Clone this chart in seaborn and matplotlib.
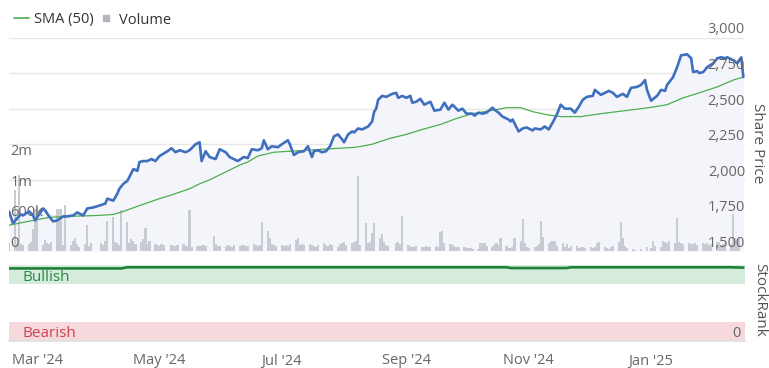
import pandas as pd
import matplotlib
matplotlib.use("Agg")
import matplotlib.pyplot as plt
from matplotlib.lines import Line2D
import seaborn as sns

# share price (pence)
price_dates = [
    "2024-02-16", "2024-02-18", "2024-02-20", "2024-02-22", "2024-02-23", "2024-02-26", "2024-02-28", "2024-02-29",
    "2024-03-02", "2024-03-04", "2024-03-05", "2024-03-07", "2024-03-09", "2024-03-11", "2024-03-14", "2024-03-16",
    "2024-03-19", "2024-03-21", "2024-03-24", "2024-03-26", "2024-03-29",
    "2024-04-01", "2024-04-04", "2024-04-05", "2024-04-08", "2024-04-10", "2024-04-11", "2024-04-13", "2024-04-15",
    "2024-04-16", "2024-04-18", "2024-04-20", "2024-04-21", "2024-04-23", "2024-04-25", "2024-04-27", "2024-04-29",
    "2024-05-01", "2024-05-05", "2024-05-07", "2024-05-09", "2024-05-11", "2024-05-14", "2024-05-16", "2024-05-19",
    "2024-05-21", "2024-05-22", "2024-05-24", "2024-05-26", "2024-05-29", "2024-05-31",
    "2024-06-03", "2024-06-05", "2024-06-09", "2024-06-12", "2024-06-14", "2024-06-16", "2024-06-19", "2024-06-21",
    "2024-06-22", "2024-06-24", "2024-06-26", "2024-06-29",
    "2024-07-01", "2024-07-04", "2024-07-05", "2024-07-07", "2024-07-09", "2024-07-12", "2024-07-14", "2024-07-16",
    "2024-07-17", "2024-07-19", "2024-07-21", "2024-07-23", "2024-07-25", "2024-07-27", "2024-07-29", "2024-07-31",
    "2024-08-01", "2024-08-03", "2024-08-05", "2024-08-06", "2024-08-08", "2024-08-10", "2024-08-13", "2024-08-15",
    "2024-08-16", "2024-08-17", "2024-08-18", "2024-08-20", "2024-08-22", "2024-08-25", "2024-08-27", "2024-08-28",
    "2024-08-30",
    "2024-09-01", "2024-09-03", "2024-09-04", "2024-09-06", "2024-09-08", "2024-09-10", "2024-09-13", "2024-09-15",
    "2024-09-18", "2024-09-20", "2024-09-22", "2024-09-24", "2024-09-27", "2024-09-29",
    "2024-10-01", "2024-10-04", "2024-10-05", "2024-10-07", "2024-10-09", "2024-10-11", "2024-10-14", "2024-10-15",
    "2024-10-17", "2024-10-19", "2024-10-22", "2024-10-23", "2024-10-24", "2024-10-27", "2024-10-29", "2024-10-31",
    "2024-11-03", "2024-11-04", "2024-11-07", "2024-11-09", "2024-11-11", "2024-11-13", "2024-11-15", "2024-11-17",
    "2024-11-19", "2024-11-22", "2024-11-24", "2024-11-26", "2024-11-28", "2024-11-30",
    "2024-12-03", "2024-12-04", "2024-12-07", "2024-12-09", "2024-12-11", "2024-12-13", "2024-12-15", "2024-12-18",
    "2024-12-20", "2024-12-22", "2024-12-25", "2024-12-27", "2024-12-29", "2024-12-30",
    "2025-01-01", "2025-01-04", "2025-01-06", "2025-01-08", "2025-01-09", "2025-01-12", "2025-01-14", "2025-01-16",
    "2025-01-19", "2025-01-21", "2025-01-22", "2025-01-24", "2025-01-25", "2025-01-27", "2025-01-29",
    "2025-02-01", "2025-02-03", "2025-02-05", "2025-02-07", "2025-02-08", "2025-02-11", "2025-02-13", "2025-02-15",
    "2025-02-16",
]
price_values = [
    1778, 1694, 1729, 1757, 1750, 1778, 1750, 1715,
    1757, 1799, 1785, 1743, 1708, 1715, 1743, 1743, 1750, 1771, 1750, 1799, 1806,
    1819, 1833, 1868, 1854, 1903, 1937, 1972, 1993, 2021, 2076, 2063, 2125, 2132, 2132, 2146, 2132,
    2167, 2201, 2222, 2194, 2208, 2194, 2208, 2250, 2264, 2132, 2201, 2160, 2146, 2215,
    2194, 2160, 2132, 2160, 2153, 2215, 2208, 2222, 2278, 2215, 2236, 2229,
    2250, 2278, 2250, 2174, 2194, 2201, 2236, 2160, 2201, 2208, 2194, 2201, 2236, 2306, 2319, 2285,
    2264, 2319, 2340, 2333, 2361, 2354, 2375, 2410, 2479, 2500, 2563, 2590, 2583, 2604, 2611, 2576, 2590,
    2576, 2590, 2542, 2549, 2569, 2528, 2549, 2486, 2493, 2542, 2493, 2528, 2486, 2500,
    2465, 2465, 2451, 2472, 2465, 2472, 2507, 2493, 2472, 2444, 2424, 2410, 2424, 2340, 2361, 2368,
    2347, 2361, 2354, 2375, 2354, 2403, 2458, 2528, 2500, 2500, 2472, 2514, 2563, 2583,
    2590, 2632, 2597, 2611, 2625, 2611, 2583, 2604, 2583, 2646, 2653, 2667, 2701, 2632,
    2556, 2590, 2632, 2625, 2667, 2722, 2792, 2875, 2882, 2854, 2757, 2764, 2750, 2757, 2792,
    2819, 2854, 2861, 2854, 2861, 2840, 2819, 2861, 2722,
]

# 50 day simple moving average
sma_dates = [
    "2024-02-16", "2024-02-28", "2024-03-07", "2024-03-16", "2024-04-01", "2024-04-08", "2024-04-13", "2024-04-21",
    "2024-05-01", "2024-05-06", "2024-05-16", "2024-05-21", "2024-05-26", "2024-06-05", "2024-06-10", "2024-06-14",
    "2024-06-19", "2024-06-27", "2024-07-05", "2024-07-14", "2024-07-21", "2024-07-30", "2024-08-07", "2024-08-15",
    "2024-08-24", "2024-09-01", "2024-09-09", "2024-09-18", "2024-09-26", "2024-10-04", "2024-10-13", "2024-10-21",
    "2024-10-28", "2024-11-03", "2024-11-10", "2024-11-17", "2024-11-27", "2024-12-07", "2024-12-15", "2024-12-23",
    "2024-12-31", "2025-01-09", "2025-01-17", "2025-01-25", "2025-02-03", "2025-02-11", "2025-02-16",
]
sma_values = [
    1681, 1715, 1736, 1743, 1750, 1757, 1778, 1819,
    1868, 1889, 1937, 1972, 2000, 2069, 2104, 2125,
    2167, 2194, 2201, 2208, 2215, 2222, 2229, 2250,
    2292, 2319, 2354, 2389, 2431, 2465, 2486, 2507,
    2507, 2479, 2458, 2444, 2444, 2465, 2479, 2493,
    2507, 2528, 2576, 2611, 2653, 2701, 2722,
]

# daily volume in thousands, one value per business day from 16 Feb 2024
volume_start = "2024-02-16"
volume_k = [
    150,
    1200, 140, 1490, 130, 120,
    140, 180, 430, 830, 870,
    120, 220, 150, 130, 180,
    820, 820, 820, 120, 910,
    110, 200, 260, 130, 80,
    130, 510, 100, 160, 0,
    0, 150, 120, 200, 600,
    670, 180, 150, 120, 800,
    570, 150, 230, 200, 140,
    170, 230, 450, 130, 190,
    140, 110, 100, 130, 120,
    0, 110, 100, 90, 120,
    130, 100, 90, 800, 80,
    90, 100, 110, 120, 100,
    0, 300, 130, 100, 90,
    100, 110, 90, 80, 110,
    100, 110, 120, 90, 100,
    130, 120, 90, 110, 570,
    400, 250, 130, 110, 100,
    120, 100, 110, 90, 130,
    210, 250, 110, 140, 120,
    130, 110, 100, 80, 120,
    160, 120, 100, 130, 120,
    80, 130, 150, 180, 120,
    160, 170, 200, 1480, 110,
    550, 150, 180, 350, 550,
    250, 330, 180, 120, 100,
    0, 150, 180, 130, 680,
    120, 100, 80, 70, 90,
    70, 80, 90, 80, 85,
    90, 80, 380, 400, 150,
    130, 120, 80, 80, 70,
    70, 60, 60, 50, 40,
    40, 150, 160, 150, 100,
    80, 110, 150, 120, 250,
    100, 60, 50, 80, 250,
    200, 630, 150, 80, 60,
    80, 100, 130, 600, 280,
    150, 200, 200, 200, 100,
    150, 80, 130, 60, 90,
    100, 60, 80, 70, 60,
    70, 60, 80, 150, 170,
    80, 60, 40, 80, 90,
    180, 580, 250, 100, 50,
    30, 20, 0, 0, 40,
    80, 0, 60, 200, 100,
    80, 200, 180, 150, 200,
    150, 650, 180, 150, 140,
    160, 140, 130, 150, 120,
    160, 140, 150, 120, 130,
    170, 180, 120, 140, 150,
    130, 720, 250, 240, 260,
]

# StockRank
rank_dates = ["2024-02-16", "2024-04-12", "2024-04-15", "2024-10-21", "2024-10-23",
              "2024-11-20", "2024-11-22", "2025-02-10", "2025-02-16"]
rank_values = [95.5, 95.5, 97, 97, 96, 96, 97, 97, 96.5]

price_ticks = [1500, 1750, 2000, 2250, 2500, 2750, 3000]
volume_ticks = [0, 600000, 1200000, 1800000]
volume_labels = ["0", "600k", "1m", "2m"]
month_ticks = ["2024-03-01", "2024-05-01", "2024-07-01", "2024-09-01", "2024-11-01", "2025-01-01"]
month_labels = ["Mar '24", "May '24", "Jul '24", "Sep '24", "Nov '24", "Jan '25"]

price = pd.DataFrame({"date": pd.to_datetime(price_dates), "price": price_values})
sma = pd.DataFrame({"date": pd.to_datetime(sma_dates), "sma": sma_values})
volume = pd.DataFrame({"date": pd.bdate_range(volume_start, periods=len(volume_k)),
                       "volume": [v * 1000 for v in volume_k]})
rank = pd.DataFrame({"date": pd.to_datetime(rank_dates), "rank": rank_values})

sns.set_theme(style="white")
plt.rcParams["font.family"] = ["Open Sans", "DejaVu Sans"]

W, H = 769, 368
fig = plt.figure(figsize=(W / 100, H / 100), dpi=100)
xlim = (pd.Timestamp("2024-02-16"), pd.Timestamp("2025-02-16 20:00"))
label_col = "#666666"

# main panel: background fill + grid, volume bars, price lines
ax = fig.add_axes([9 / W, 1 - 251 / H, 736 / W, 213.5 / H])
ax.fill_between(price["date"], price["price"], 1500, color="#f3f5fb", lw=0)
ax.set_ylim(1500, 3000)
ax.set_yticks(price_ticks)
ax.grid(axis="y", color="#e6e6e6", lw=1)
ax.set_xticks([])

vax = ax.twinx()
vax.bar(volume["date"], volume["volume"], width=1.1, color="#c9cbd2", lw=0)
vax.set_ylim(0, 4.2e6)
vax.set_yticks([])
for v, lab in zip(volume_ticks, volume_labels):
    vax.annotate(lab, xy=(0, v), xycoords=vax.get_yaxis_transform(), xytext=(1, 5.5),
                 textcoords="offset points", ha="left", va="center", color=label_col, fontsize=10.5)

pax = ax.twinx()
sns.lineplot(data=sma, x="date", y="sma", ax=pax, color="#4cae4c", lw=0.9, estimator=None)
sns.lineplot(data=price, x="date", y="price", ax=pax, color="#3f6fbf", lw=1.9, estimator=None)
pax.set_ylim(1500, 3000)
pax.set_yticks([])
for v in price_ticks:
    pax.annotate(f"{v:,}", xy=(1, v), xycoords=pax.get_yaxis_transform(), xytext=(0, 5.5),
                 textcoords="offset points", ha="right", va="center", color=label_col, fontsize=10.5)

for a in (ax, vax, pax):
    a.set_xlim(*xlim)
    a.set_xlabel("")
    a.set_ylabel("")
    a.tick_params(length=0, labelleft=False, labelright=False, labelbottom=False)
    for s in a.spines.values():
        s.set_visible(False)

# StockRank panel
rax = fig.add_axes([9 / W, 1 - 341 / H, 736 / W, 76 / H])
rax.axhspan(75, 100, color="#d5ebdc", lw=0)
rax.axhspan(0, 25, color="#f6d9dc", lw=0)
sns.lineplot(data=rank, x="date", y="rank", ax=rax, color="#1f8038", lw=1.9, estimator=None)
rax.set_ylim(0, 100)
rax.set_xlim(*xlim)
rax.set_yticks([])
rax.set_xlabel("")
rax.set_ylabel("")
rax.text(0.018, 83, "Bullish", transform=rax.get_yaxis_transform(), ha="left", va="center",
         color="#2a8a44", fontsize=11)
rax.text(0.018, 9.5, "Bearish", transform=rax.get_yaxis_transform(), ha="left", va="center",
         color="#d0404f", fontsize=11)
rax.annotate("0", xy=(1, 0), xycoords=rax.get_yaxis_transform(), xytext=(-3, 5.5),
             textcoords="offset points", ha="right", va="center", color=label_col, fontsize=10.5)
rax.set_xticks(pd.to_datetime(month_ticks))
rax.set_xticklabels(month_labels)
rax.tick_params(axis="x", direction="out", length=7, width=1, color="#d8dde8",
                labelcolor=label_col, labelsize=10.5, pad=2)
for name, s in rax.spines.items():
    s.set_visible(name == "bottom")
rax.spines["bottom"].set_color("#e0e0e0")

fig.text(757 / W, 1 - 143 / H, "Share Price", rotation=270, ha="center", va="center",
         fontsize=11, color="#555555")
fig.text(760 / W, 1 - 300 / H, "StockRank", rotation=270, ha="center", va="center",
         fontsize=11, color="#555555")

handles = [Line2D([], [], color="#4cae4c", lw=1.2),
           Line2D([], [], marker="s", ls="", color="#b4b6be", markersize=5)]
fig.legend(handles, ["SMA (50)", "Volume"], loc="center left", bbox_to_anchor=(14 / W, 1 - 20 / H),
           ncol=2, frameon=False, fontsize=10.5, handlelength=1.0, handletextpad=0.4,
           columnspacing=0.3, borderpad=0, borderaxespad=0, labelcolor="#333333")

fig.savefig("out.png", dpi=100)
